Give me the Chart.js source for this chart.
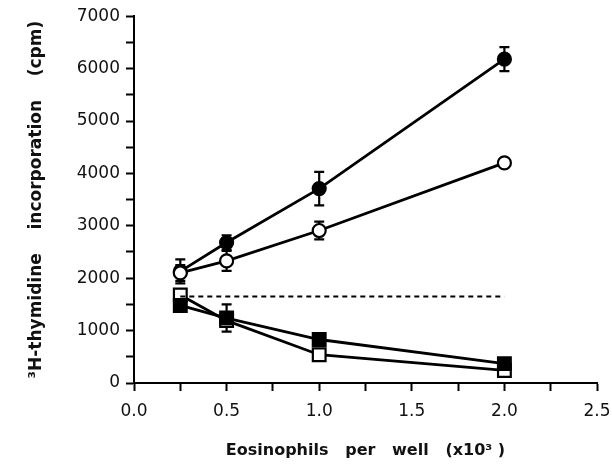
<!DOCTYPE html>
<html lang="en">
<head>
  <meta charset="UTF-8">
  <title>Eosinophils 3H-thymidine</title>
  <script src="https://cdn.jsdelivr.net/npm/chart.js"></script>
  <style>
    body { margin: 0; background: #fff; }
    #wrap { width: 612px; height: 466px; }
  </style>
</head>
<body>
  <div id="wrap"><canvas id="chart" width="612" height="466"></canvas></div>

  <script>
    // eosinophils per well (x10^3)
    const doses = [0.25, 0.5, 1.0, 2.0];

    // 3H-thymidine incorporation (cpm) and SEM
    const filledCircle = [2130, 2680, 3710, 6180];
    const filledCircleErr = [230, 140, 320, 230];
    const openCircle = [2100, 2330, 2910, 4200];
    const openCircleErr = [150, 190, 170, 0];
    const filledSquare = [1480, 1240, 830, 370];
    const filledSquareErr = [60, 260, 60, 50];
    const openSquare = [1680, 1190, 540, 240];
    const openSquareErr = [60, 80, 60, 0];

    // background level (dashed)
    const baselineX = [0.25, 2.0];
    const baselineY = [1650, 1650];

    const xTicks = [0, 0.5, 1.0, 1.5, 2.0, 2.5];
    const yTicks = [0, 1000, 2000, 3000, 4000, 5000, 6000, 7000];

    const toPoints = (xs, ys) => xs.map((x, i) => ({ x: x, y: ys[i] }));

    function series(values, errs, style, fill) {
      return {
        data: toPoints(doses, values),
        errors: errs,
        borderColor: '#000',
        borderWidth: 2.8,
        pointStyle: style,
        pointRadius: style === 'rect' ? 9 : 6.5,
        pointBorderWidth: 2.2,
        pointBorderColor: '#000',
        pointBackgroundColor: fill ? '#000' : '#fff',
        tension: 0
      };
    }

    // vertical error bars with caps, drawn under the markers
    const errorBars = {
      id: 'errorBars',
      beforeDatasetsDraw(chart) {
        const ctx = chart.ctx;
        const y = chart.scales.y;
        ctx.save();
        ctx.strokeStyle = '#000';
        ctx.lineWidth = 2.2;
        chart.data.datasets.forEach((ds, di) => {
          if (!ds.errors) return;
          const meta = chart.getDatasetMeta(di);
          meta.data.forEach((pt, i) => {
            const e = ds.errors[i];
            if (!e) return;
            const v = ds.data[i].y;
            const top = y.getPixelForValue(v + e);
            const bot = y.getPixelForValue(v - e);
            ctx.beginPath();
            ctx.moveTo(pt.x, top); ctx.lineTo(pt.x, bot);
            ctx.moveTo(pt.x - 5, top); ctx.lineTo(pt.x + 5, top);
            ctx.moveTo(pt.x - 5, bot); ctx.lineTo(pt.x + 5, bot);
            ctx.stroke();
          });
        });
        ctx.restore();
      }
    };

    const tickFont = { family: 'DejaVu Sans', size: 17 };
    const titleFont = { family: 'DejaVu Sans', size: 16, weight: 'bold' };

    new Chart(document.getElementById('chart'), {
      type: 'line',
      data: {
        datasets: [
          {
            data: toPoints(baselineX, baselineY),
            borderColor: '#000',
            borderWidth: 2,
            borderDash: [5, 4],
            pointRadius: 0
          },
          series(filledSquare, filledSquareErr, 'rect', true),
          series(openSquare, openSquareErr, 'rect', false),
          series(openCircle, openCircleErr, 'circle', false),
          series(filledCircle, filledCircleErr, 'circle', true)
        ]
      },
      options: {
        responsive: false,
        animation: false,
        layout: { padding: { top: 5, right: 0, left: 0, bottom: 0 } },
        plugins: {
          legend: { display: false },
          tooltip: { enabled: false }
        },
        scales: {
          x: {
            type: 'linear',
            min: 0,
            max: 2.5,
            ticks: {
              stepSize: 0.25,
              autoSkip: false,
              maxRotation: 0,
              color: '#111',
              padding: 10,
              font: tickFont,
              callback: v => xTicks.some(t => Math.abs(t - v) < 1e-6) ? v.toFixed(1) : ''
            },
            grid: { drawOnChartArea: false, tickLength: 8, tickColor: '#000', tickWidth: 2 },
            border: { color: '#000', width: 2 },
            title: {
              display: true,
              text: 'Eosinophils   per   well   (x10\u00B3 )',
              color: '#111',
              font: titleFont,
              padding: { top: 6, bottom: 6 }
            },
            afterFit: s => { s.height = 83; s.paddingRight = 15; }
          },
          y: {
            min: 0,
            max: 7000,
            ticks: {
              stepSize: 500,
              autoSkip: false,
              color: '#111',
              padding: 6,
              font: tickFont,
              callback: v => yTicks.includes(v) ? String(v) : ''
            },
            grid: { drawOnChartArea: false, tickLength: 8, tickColor: '#000', tickWidth: 2 },
            border: { color: '#000', width: 2 },
            title: {
              display: true,
              text: '\u00B3H-thymidine    incorporation    (cpm)',
              color: '#111',
              font: { family: 'DejaVu Sans', size: 17, weight: 'bold' },
              padding: { top: 26, bottom: 8 }
            },
            afterFit: s => { s.width = 134; }
          }
        }
      },
      plugins: [errorBars]
    });
  </script>
</body>
</html>
